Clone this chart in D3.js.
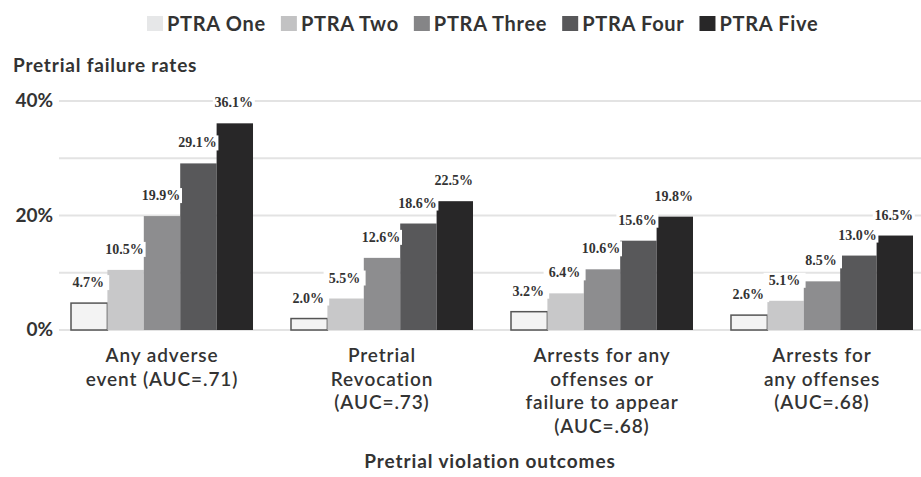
<!DOCTYPE html>
<html>
<head>
<meta charset="utf-8">
<script src="https://cdn.jsdelivr.net/npm/d3@7"></script>
<style>
  body { margin: 0; background: #fff; }
  text { font-family: Lato, "Open Sans", sans-serif; fill: #333; }
  text.val { font-family: "Liberation Serif", "DejaVu Serif", serif; }
</style>
</head>
<body>
<svg width="921" height="477"></svg>
<script>
// data
var outcomes = [
    ['Any adverse', 'event (AUC=.71)'],
    ['Pretrial', 'Revocation', '(AUC=.73)'],
    ['Arrests for any', 'offenses or', 'failure to appear', '(AUC=.68)'],
    ['Arrests for', 'any offenses', '(AUC=.68)']
];
var levels = ['PTRA One', 'PTRA Two', 'PTRA Three', 'PTRA Four', 'PTRA Five'];
var colors = ['#f3f3f3', '#c8c8c9', '#8d8d8f', '#58585a', '#282728'];
var legendColors = ['#e6e7e8', '#c2c2c3', '#858587', '#58585a', '#282728'];
var rates = [
    [4.7, 10.5, 19.9, 29.1, 36.1],
    [2.0, 5.5, 12.6, 18.6, 22.5],
    [3.2, 6.4, 10.6, 15.6, 19.8],
    [2.6, 5.1, 8.5, 13.0, 16.5]
];
var yTicks = [0, 20, 40];
var gridTicks = [0, 10, 20, 30, 40];

var svg = d3.select('svg');

var scaleX = d3.scaleBand().domain(d3.range(outcomes.length))
    .range([52, 932]).paddingInner(0.1727).paddingOuter(0.0864);
var scaleInner = d3.scaleBand().domain(d3.range(levels.length))
    .range([0, scaleX.bandwidth()]);
var scaleY = d3.scaleLinear().domain([0, 40]).range([330, 101]);

// grid lines
svg.append('g')
    .selectAll('line')
    .data(gridTicks)
    .enter()
    .append('line')
    .attr('x1', 59)
    .attr('x2', 921)
    .attr('y1', function(d){ return scaleY(d) })
    .attr('y2', function(d){ return scaleY(d) })
    .attr('stroke', '#e3e3e3')
    .attr('stroke-width', 2);

// y tick labels
svg.append('g')
    .selectAll('text')
    .data(yTicks)
    .enter()
    .append('text')
    .attr('x', 53)
    .attr('y', function(d){ return scaleY(d) + 6 })
    .attr('text-anchor', 'end')
    .attr('font-size', 19)
    .attr('font-weight', 'bold')
    .text(function(d){ return d + '%' });

// bars
var groups = svg.selectAll('.grp')
    .data(rates)
    .enter()
    .append('g')
    .attr('class', 'grp')
    .attr('transform', function(d, i){ return 'translate(' + scaleX(i) + ',0)' });

groups.selectAll('rect')
    .data(function(d){ return d })
    .enter()
    .append('rect')
    .attr('x', function(d, i){ return scaleInner(i) })
    .attr('y', function(d){ return scaleY(d) })
    .attr('width', scaleInner.bandwidth())
    .attr('height', function(d){ return scaleY(0) - scaleY(d) })
    .attr('fill', function(d, i){ return colors[i] })
    .attr('stroke', function(d, i){ return i == 0 ? '#555' : 'none' })
    .attr('stroke-width', 1.5);

// value labels with white backing
var labels = groups.selectAll('.lbl')
    .data(function(d){ return d })
    .enter()
    .append('g')
    .attr('class', 'lbl')
    .attr('transform', function(d, i){
        return 'translate(' + (scaleInner(i) + scaleInner.bandwidth() / 2 - 1) + ',' + (scaleY(d) - 16) + ')'
    });

labels.append('rect')
    .attr('x', -21)
    .attr('y', -12)
    .attr('width', 42)
    .attr('height', 15)
    .attr('fill', '#fff');

labels.append('text')
    .attr('class', 'val')
    .attr('text-anchor', 'middle')
    .attr('font-size', 14)
    .attr('font-weight', 'bold')
    .text(function(d){ return d.toFixed(1) + '%' });

// category labels
svg.append('g')
    .selectAll('text')
    .data(outcomes)
    .enter()
    .append('text')
    .attr('x', function(d, i){ return scaleX(i) + scaleX.bandwidth() / 2 })
    .attr('y', 362)
    .attr('text-anchor', 'middle')
    .attr('font-size', 19)
    .attr('font-weight', 600)
    .attr('letter-spacing', 0.9)
    .each(function(d){
        var t = d3.select(this);
        d.forEach(function(line, k){
            t.append('tspan')
                .attr('x', t.attr('x'))
                .attr('dy', k == 0 ? 0 : 23.7)
                .text(line);
        });
    });

// titles
svg.append('text')
    .attr('x', 13)
    .attr('y', 72)
    .attr('font-size', 19)
    .attr('font-weight', 'bold')
    .attr('letter-spacing', 0.8)
    .text('Pretrial failure rates');

svg.append('text')
    .attr('x', 490)
    .attr('y', 468)
    .attr('text-anchor', 'middle')
    .attr('font-size', 19)
    .attr('font-weight', 'bold')
    .attr('letter-spacing', 0.9)
    .text('Pretrial violation outcomes');

// legend
var legend = svg.append('g');
var lx = 147;
levels.forEach(function(name, i){
    var item = legend.append('g').attr('transform', 'translate(' + lx + ',0)');
    item.append('rect')
        .attr('x', 0)
        .attr('y', 16)
        .attr('width', 16)
        .attr('height', 15)
        .attr('fill', legendColors[i]);
    var t = item.append('text')
        .attr('x', 20)
        .attr('y', 31)
        .attr('font-size', 20)
        .attr('font-weight', 'bold')
        .attr('letter-spacing', 0.7)
        .text(name);
    lx += 20 + t.node().getComputedTextLength() + 15;
});
</script>
</body>
</html>
